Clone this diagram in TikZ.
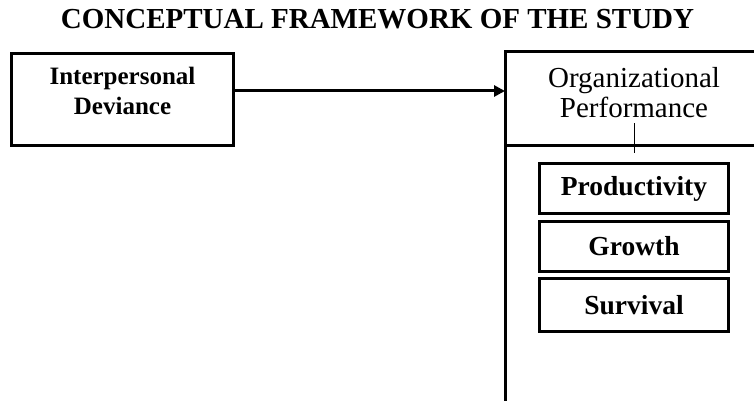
\documentclass[tikz,border=0pt]{standalone}
\usepackage{fontspec}
\setmainfont{Liberation Serif}
\usetikzlibrary{arrows.meta,positioning}

\begin{document}
\begin{tikzpicture}[x=1pt, y=-1pt, line width=3pt,
    box/.style={draw, inner sep=0pt, align=center},
    item/.style={box, line width=2.6pt, minimum width=189pt, minimum height=50pt, font=\fontsize{27.5}{30}\selectfont\bfseries}]
    \useasboundingbox (0,0) rectangle (754,401);

    \node[font=\fontsize{29}{32}\selectfont\bfseries] (title) at (377.5,19) {CONCEPTUAL FRAMEWORK OF THE STUDY};

    \node[box, minimum width=222pt, minimum height=91pt] (dev) at (122.5,99.5) {};
    \node[below=13pt of dev.north, inner sep=0pt, align=center, font=\fontsize{25}{30}\selectfont\bfseries] (devtext) {Interpersonal\\Deviance};

    % open box on the right
    \draw (754,52) -- (505,52) -- (505,401);
    \draw (505,145) -- (754,145);
    \node[inner sep=0pt, align=center, font=\fontsize{29}{30}\selectfont] (perf) at (634,66) [anchor=north] {Organizational\\Performance};
    \coordinate (perfin) at (505,91);

    \node[item] (prod) at (634,188.5) {Productivity};
    \node[item] (grow) at (634,246.5) {Growth};
    \node[item, minimum height=53pt] (surv) at (634,305) {Survival};

    \draw[line width=1pt] (634,123) -- (634,153);
    \draw[-{Triangle[length=11pt,width=11pt]}] (dev.east |- perfin) -- (perfin);
\end{tikzpicture}
\end{document}
